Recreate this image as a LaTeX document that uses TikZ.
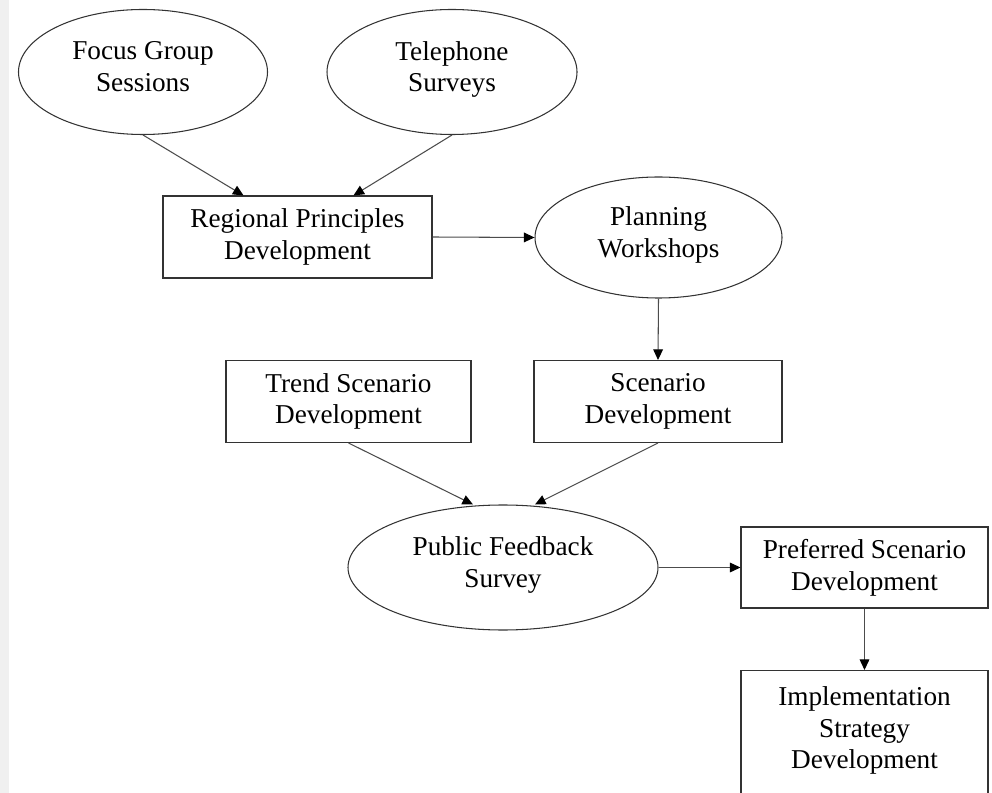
\documentclass[tikz,border=0pt]{standalone}
\usepackage{fontspec}
\setmainfont{Liberation Serif}
\usetikzlibrary{shapes.geometric,arrows.meta}

\begin{document}
\begin{tikzpicture}[
    oval/.style={draw=black!80, line width=0.6pt, ellipse, align=center,
                 font=\fontsize{15.5}{18}\selectfont, inner sep=0pt,
                 execute at end node={\rule[-6.3pt]{0pt}{0pt}}},
    box/.style={draw=black!80, line width=0.6pt, rectangle, align=center,
                font=\fontsize{15.5}{18}\selectfont, minimum height=1.64cm},
    arr/.style={draw=black!70, line width=0.6pt,
                -{Triangle[length=6pt,width=5.5pt,black]}}
]
    \useasboundingbox (0,0) rectangle (19.84,-15.86);
    \fill[black!6] (0,0) rectangle (0.18,-15.86);

    \node[oval, minimum width=4.98cm, minimum height=2.5cm] (focus) at (2.86,-1.44) {Focus Group\\Sessions};
    \node[oval, minimum width=5.0cm,  minimum height=2.5cm] (phone) at (9.04,-1.44) {Telephone\\Surveys};
    \node[box,  minimum width=5.38cm] (regional) at (5.95,-4.74) {Regional Principles\\Development};
    \node[oval, minimum width=4.94cm, minimum height=2.42cm] (workshops) at (13.17,-4.75) {Planning\\Workshops};
    \node[box,  minimum width=4.9cm]  (trend) at (6.97,-8.03) {Trend Scenario\\Development};
    \node[box,  minimum width=4.96cm] (scenario) at (13.16,-8.03) {Scenario\\Development};
    \node[oval, minimum width=6.2cm,  minimum height=2.5cm] (feedback) at (10.06,-11.35) {Public Feedback\\Survey};
    \node[box,  minimum width=4.94cm, minimum height=1.62cm] (preferred) at (17.29,-11.35) {Preferred Scenario\\Development};
    % box runs off the bottom of the page
    \node[box,  minimum width=4.94cm, minimum height=2.92cm, anchor=north] (implement) at (17.29,-13.4)
        {Implementation\\Strategy\\Development\\\mbox{}};

    \draw[arr] (focus.south) -- ([xshift=-1.08cm]regional.north);
    \draw[arr] (phone.south) -- ([xshift=1.12cm]regional.north);
    \draw[arr] (regional.east) -- (workshops.west);
    \draw[arr] (workshops.south) -- (scenario.north);
    \draw[arr] (trend.south) -- ([xshift=-0.6cm]feedback.north);
    \draw[arr] (scenario.south) -- ([xshift=0.64cm]feedback.north);
    \draw[arr] (feedback.east) -- (preferred.west);
    \draw[arr] (preferred.south) -- (implement.north);
\end{tikzpicture}
\end{document}
